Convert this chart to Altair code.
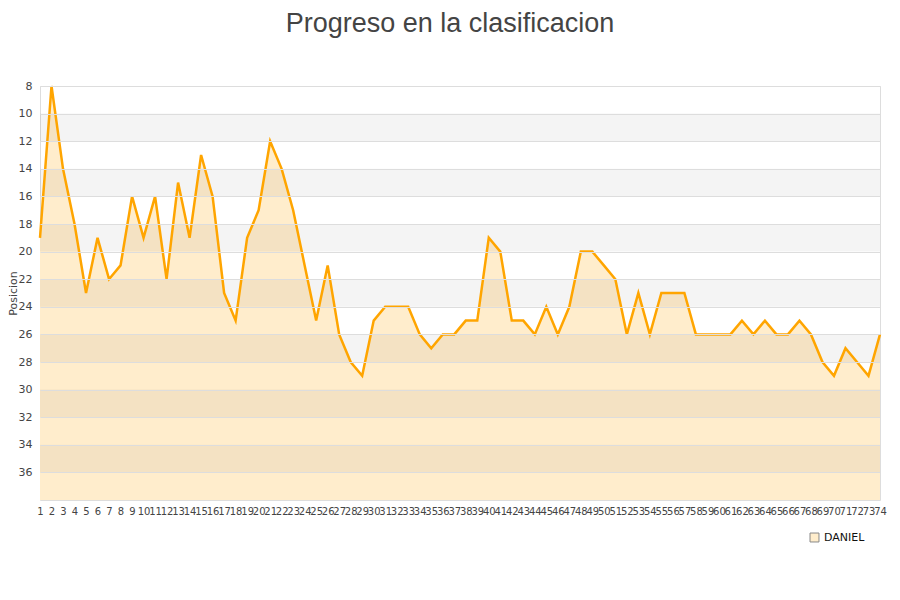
import altair as alt
import pandas as pd

jornadas = list(range(1, 75))
posiciones = [19, 8, 14, 18, 23, 19, 22, 21, 16, 19,
              16, 22, 15, 19, 13, 16, 23, 25, 19, 17,
              12, 14, 17, 21, 25, 21, 26, 28, 29, 25,
              24, 24, 24, 26, 27, 26, 26, 25, 25, 19,
              20, 25, 25, 26, 24, 26, 24, 20, 20, 21,
              22, 26, 23, 26, 23, 23, 23, 26, 26, 26,
              26, 25, 26, 25, 26, 26, 25, 26, 28, 29,
              27, 28, 29, 26]
jugador = 'DANIEL'
ticks_y = list(range(8, 38, 2))
bandas_inicio = [10, 14, 18, 22, 26, 30, 34]

df = pd.DataFrame({'Jornada': jornadas, 'Posicion': posiciones, 'Jugador': jugador})
df['base'] = 38
bandas = pd.DataFrame({'y': bandas_inicio, 'y2': [b + 2 for b in bandas_inicio]})

escala_y = alt.Scale(domain=[8, 38], reverse=True, nice=False, zero=False)
escala_x = alt.Scale(domain=[1, 74], nice=False, zero=False)

eje_x = alt.Axis(title=None, values=jornadas, labelOverlap=False, ticks=False,
                 grid=False, domain=False, labelFontSize=10, labelColor='#444',
                 labelFont='DejaVu Sans', labelPadding=6, labelFlush=False)
eje_y = alt.Axis(title='Posicion', values=ticks_y, labelOverlap=False, ticks=False,
                 domain=False, gridColor='#dddddd', zindex=1,
                 labelFontSize=11, labelColor='#444', labelFont='DejaVu Sans',
                 labelPadding=8, titleFont='DejaVu Sans', titleFontSize=11,
                 titleFontWeight='normal', titleColor='#444',
                 titleX=-27, titleBaseline='middle')

# relleno opaco debajo, bandas grises translúcidas encima
area = alt.Chart(df).mark_area().encode(
    x=alt.X('Jornada:Q', scale=escala_x, axis=eje_x),
    y=alt.Y('Posicion:Q', scale=escala_y, axis=eje_y),
    y2='base:Q',
    color=alt.Color('Jugador:N', scale=alt.Scale(range=['#ffedcc']),
                    legend=alt.Legend(title=None, orient='none', legendX=769, legendY=446,
                                      symbolType='square', symbolSize=80,
                                      symbolStrokeColor='#888', symbolStrokeWidth=1,
                                      labelFont='DejaVu Sans', labelFontSize=11,
                                      labelColor='#111', padding=0))
)

fondo = alt.Chart(bandas).mark_rect(color='#000000', opacity=0.045).encode(
    y=alt.Y('y:Q', scale=escala_y, axis=eje_y),
    y2='y2:Q',
    x=alt.value(0),
    x2=alt.value(840)
)

linea = alt.Chart(df).mark_line(color='#ffa500', strokeWidth=2.5).encode(
    x=alt.X('Jornada:Q', scale=escala_x, axis=eje_x),
    y=alt.Y('Posicion:Q', scale=escala_y, axis=eje_y)
)

chart = alt.layer(area, fondo, linea).properties(
    width=840,
    height=414,
    autosize=alt.AutoSizeParams(type='none'),
    padding={'left': 32, 'top': 78, 'right': 10, 'bottom': 80},
    title=alt.Title('Progreso en la clasificacion', font='Liberation Sans', fontSize=27,
                    fontWeight='normal', color='#444', anchor='middle', frame='group',
                    dx=-10, offset=42)
).configure_view(
    stroke='#dddddd'
)

chart.save('out.html', embed_options={'renderer': 'svg', 'actions': False})
